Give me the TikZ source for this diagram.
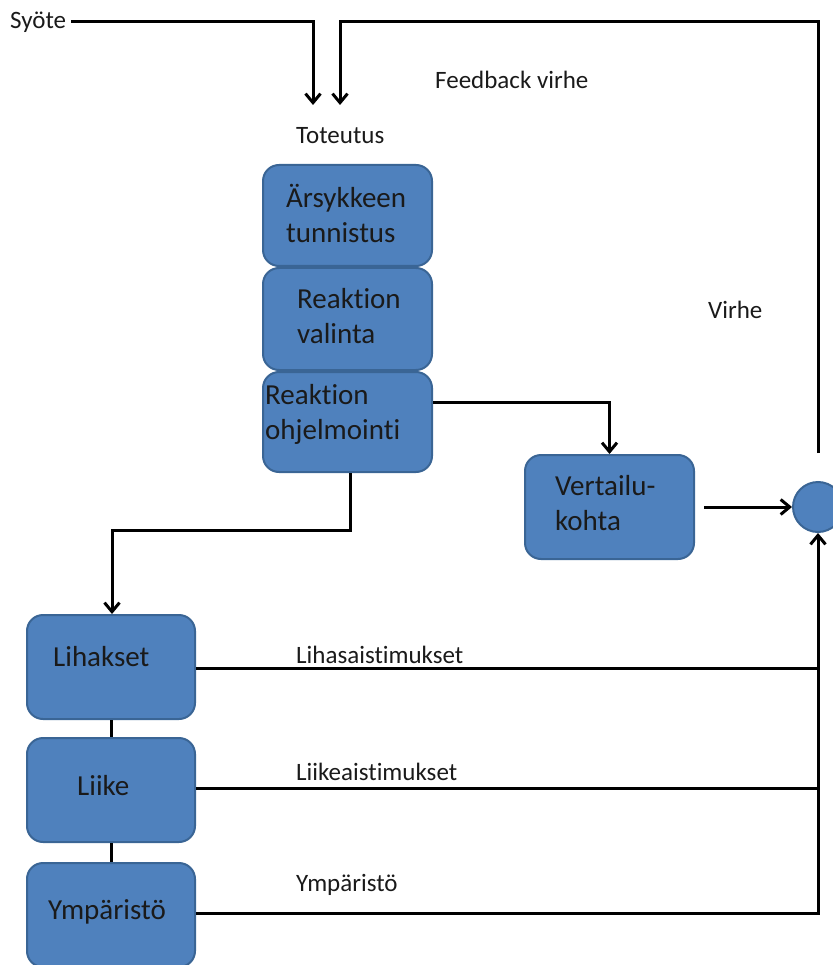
\documentclass[tikz,border=0pt]{standalone}
\usepackage{fontspec}
\setmainfont{Carlito}[Ligatures=NoCommon]
\usetikzlibrary{arrows.meta}
\definecolor{boxfill}{HTML}{4F81BD}
\definecolor{boxline}{HTML}{3A6595}
\definecolor{txt}{HTML}{1A1A1A}
\tikzset{
  blk/.style={draw=boxline, line width=2pt, fill=boxfill, rounded corners=16pt, inner sep=0pt},
  boxtext/.style={font=\fontsize{29}{35}\selectfont, text=txt, inner sep=0pt, align=left, anchor=west},
  lbl/.style={font=\fontsize{25}{28}\selectfont, text=txt, inner sep=0pt, anchor=west},
  wire/.style={line width=3pt, black},
  arr/.style={wire, -{Straight Barb[length=9pt,width=15pt]}},
}
\begin{document}
\begin{tikzpicture}[x=1pt,y=-1pt]
\useasboundingbox (0,0) rectangle (832,965);
% boxes
\node[blk, minimum width=169pt, minimum height=101pt] (b1) at (347.5,215.5) {};
\node[blk, minimum width=169pt, minimum height=102pt] (b2) at (347.5,319) {};
\node[blk, minimum width=169pt, minimum height=100pt] (b3) at (347.5,422) {};
\node[blk, minimum width=169pt, minimum height=104pt] (vk) at (609.5,507) {};
\node[blk, minimum width=168pt, minimum height=104pt] (lih) at (111,667) {};
\node[blk, minimum width=168pt, minimum height=104pt] (lii) at (111,790) {};
\node[blk, minimum width=168pt, minimum height=104pt] (ymp) at (111,915) {};
\node[circle, draw=boxline, line width=2pt, fill=boxfill, minimum size=50pt, inner sep=0pt] (c) at (818,507) {};
% box texts
\node[boxtext] (t1) at (286,213) {Ärsykkeen\\tunnistus};
\node[boxtext] (t2) at (297,316) {Reaktion\\valinta};
\node[boxtext] (t3) at (265,414) {Reaktion\\ohjelmointi};
\node[boxtext] (t4) at (555,503) {Vertailu-\\kohta};
\node[boxtext] (t5) at (53,657) {Lihakset};
\node[boxtext] (t6) at (77,786) {Liike};
\node[boxtext] (t7) at (48,912) {Ympäristö};
% labels
\node[lbl] (syote) at (10,22) {Syöte};
\node[lbl] (fb) at (435,80) {Feedback virhe};
\node[lbl] (tot) at (296,136) {Toteutus};
\node[lbl] (virhe) at (708,310) {Virhe};
\node[lbl] (l1) at (296,655) {Lihasaistimukset};
\node[lbl] (l2) at (296,772) {Liikeaistimukset};
\node[lbl] (l3) at (296,885) {Ympäristö};
% coordinates
\coordinate (in1) at (313,105);
\coordinate (in2) at (340,105);
\coordinate (fbtop) at (818,453);
% connectors
\draw[arr] (syote.east) ++(5,0) -| (in1);
\draw[arr] (fbtop) |- (340,22) -- (in2);
\draw[arr] (b3.east |- 0,402) -| (vk.north);
\draw[arr] (vk.east) ++(9,0) -- (c.west);
\draw[arr] (b3.south -| 350,0) |- (112,530) -- (lih.north -| 112,0);
\draw[wire] (lih.south) -- (lii.north);
\draw[wire] (lii.south) -- (ymp.north);
\draw[wire] (lih.east |- 0,668) -- (818,668);
\draw[wire] (lii.east |- 0,788) -- (818,788);
\draw[arr] (ymp.east |- 0,913) -| (c.south);
\end{tikzpicture}
\end{document}
